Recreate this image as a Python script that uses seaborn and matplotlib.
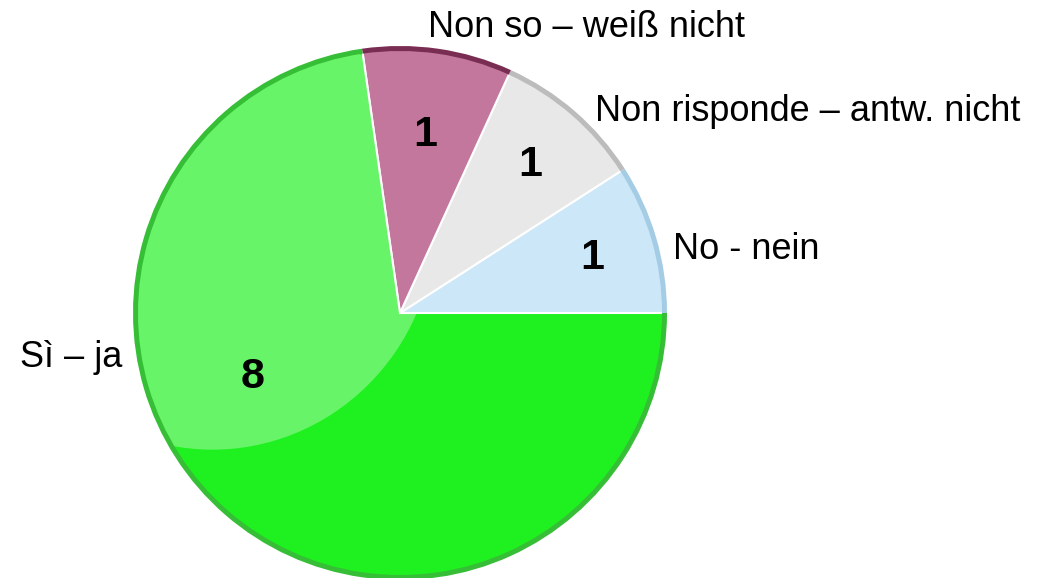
import numpy as np
import matplotlib
matplotlib.use("Agg")
import matplotlib.pyplot as plt
import seaborn as sns
from matplotlib.patches import Ellipse

# data
labels = ["No - nein", "Non risponde – antw. nicht", "Non so – weiß nicht", "Sì – ja"]
counts = [1, 1, 1, 8]
colors = ["#cbe7f8", "#e8e8e8", "#c4779d", "#1ff01f"]
rim_colors = ["#a4cce4", "#bcbcbc", "#7a2d52", "#36bf36"]

# where the outer labels and counts sit (angle in deg, fraction of radius)
label_pos = [(13.0, 1.049), (45.9, 1.049), (84.4, 1.076), (189.0, 1.054)]
count_pos = [(16.0, 0.749), (48.7, 0.738), (82.0, 0.674), (203.5, 0.60)]

sns.set_theme(style="white")
plt.rcParams['font.family'] = ['Liberation Sans', 'DejaVu Sans']

W, H = 1041, 578
fig = plt.figure(figsize=(W / 100, H / 100), dpi=100)
ax = fig.add_axes([0, 0, 1, 1])

cx, cy, r = 400, H - 313, 267

wedges, texts, autotexts = ax.pie(
    counts, colors=colors, labels=labels, startangle=0, counterclock=True,
    center=(cx, cy), radius=r, labeldistance=1.07, pctdistance=0.72,
    autopct=lambda p: "%d" % round(p * sum(counts) / 100),
    wedgeprops=dict(edgecolor="white", linewidth=1.5),
    textprops=dict(fontsize=26, color="black"))

# glossy highlight on the upper-left of the big slice
gloss = Ellipse((215, H - 225), 440, 450, angle=-15, facecolor="white",
                alpha=0.33, edgecolor="none")
ax.add_patch(gloss)
gloss.set_clip_path(wedges[3])

# darker rim on top
ax.pie(counts, colors=rim_colors, startangle=0, center=(cx, cy), radius=r,
       wedgeprops=dict(width=5, edgecolor="none", linewidth=0))

for t, (a, d) in zip(texts, label_pos):
    a = np.deg2rad(a)
    t.set_position((cx + d * r * np.cos(a), cy + d * r * np.sin(a)))
    t.set_ha("left" if np.cos(a) > 0 else "right")
    t.set_va("center")

for t, (a, d) in zip(autotexts, count_pos):
    a = np.deg2rad(a)
    t.set_position((cx + d * r * np.cos(a), cy + d * r * np.sin(a)))
    t.set_fontsize(31)
    t.set_fontweight("bold")
    t.set_ha("center")
    t.set_va("center")
    t.set_zorder(5)

ax.set_xlim(0, W)
ax.set_ylim(0, H)
ax.set_aspect("equal")
ax.axis("off")

fig.savefig("out.png", dpi=100, facecolor="white")
